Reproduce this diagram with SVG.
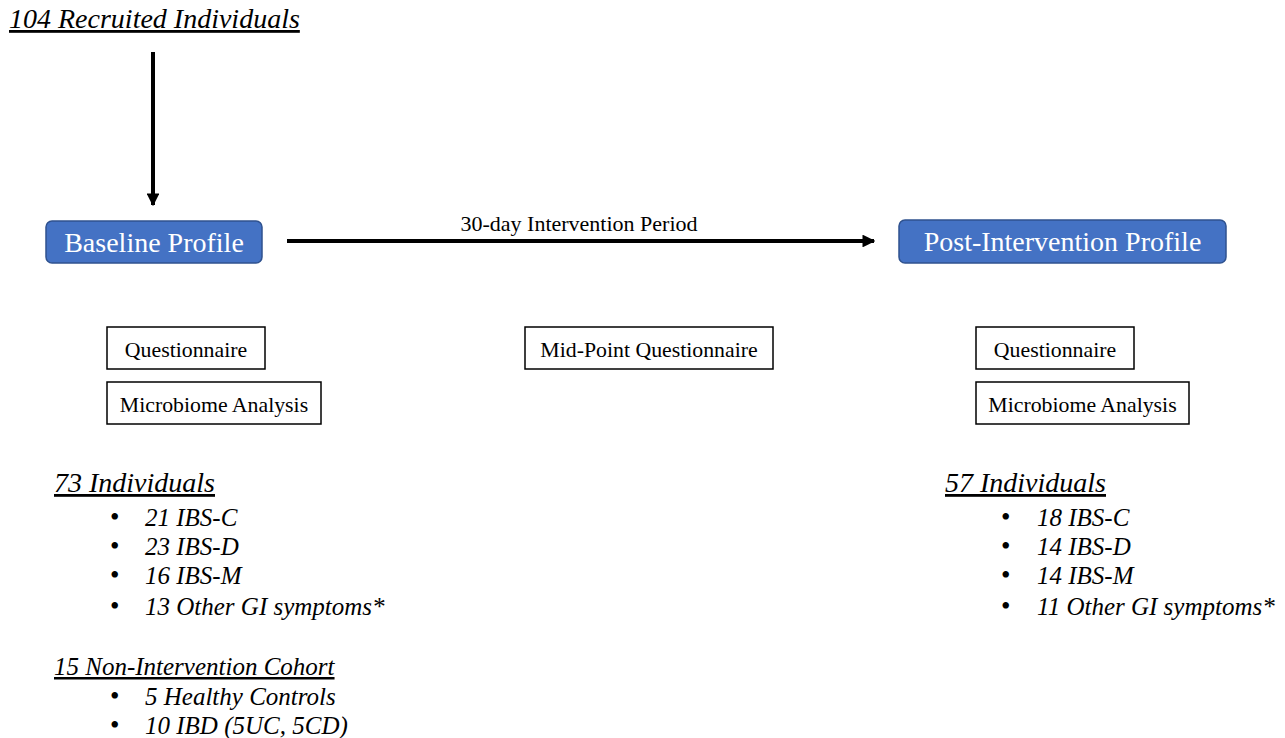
<svg xmlns="http://www.w3.org/2000/svg" width="1285" height="738" viewBox="0 0 1285 738">
<style>
text{font-family:"Liberation Serif","Times New Roman",serif;fill:#000}
.hdr{font-size:28px;font-style:italic;text-decoration:underline}
.sub{font-size:25px;font-style:italic;text-decoration:underline}
.item{font-size:25px;font-style:italic}
.bul{font-size:27px}
.prof rect{fill:#4472C4;stroke:#2F528F;stroke-width:1.5}
.prof text{fill:#fff;font-size:28px;text-anchor:middle}
.box rect{fill:#fff;stroke:#000;stroke-width:1.5}
.box text{font-size:21.8px;text-anchor:middle}
.conn line{stroke:#000;stroke-width:4}
</style>
<defs>
<marker id="ah" viewBox="0 0 10 10" refX="9" refY="5" markerWidth="3.2" markerHeight="3.2" orient="auto" markerUnits="strokeWidth">
<path d="M0,0 L10,5 L0,10 z" fill="#000"/>
</marker>
</defs>
<g id="recruited"><text class="hdr" x="9" y="28">104 Recruited Individuals</text></g>
<g id="connectors" class="conn">
<line x1="153" y1="52" x2="153" y2="205" marker-end="url(#ah)"/>
<line x1="287" y1="241" x2="874" y2="241" marker-end="url(#ah)"/>
<text x="579" y="231" font-size="22" text-anchor="middle">30-day Intervention Period</text>
</g>
<g id="baseline" class="prof"><rect x="46" y="221" width="216" height="42" rx="6"/><text x="154" y="252">Baseline Profile</text></g>
<g id="post" class="prof"><rect x="899" y="220" width="327" height="43" rx="6"/><text x="1062.5" y="251">Post-Intervention Profile</text></g>
<g id="q1" class="box"><rect x="107" y="327" width="158" height="42"/><text x="186" y="357">Questionnaire</text></g>
<g id="m1" class="box"><rect x="107" y="382" width="214" height="42"/><text x="214" y="412">Microbiome Analysis</text></g>
<g id="mid" class="box"><rect x="525" y="327" width="248" height="42"/><text x="649" y="357">Mid-Point Questionnaire</text></g>
<g id="q2" class="box"><rect x="976" y="327" width="158" height="42"/><text x="1055" y="357">Questionnaire</text></g>
<g id="m2" class="box"><rect x="976" y="382" width="213" height="42"/><text x="1082.5" y="412">Microbiome Analysis</text></g>
<g id="baselineCohort">
<text class="hdr" x="54" y="492">73 Individuals</text>
<text class="bul" x="110" y="526">•</text><text class="item" x="145" y="526">21 IBS-C</text>
<text class="bul" x="110" y="555">•</text><text class="item" x="145" y="555">23 IBS-D</text>
<text class="bul" x="110" y="584">•</text><text class="item" x="145" y="584">16 IBS-M</text>
<text class="bul" x="110" y="615">•</text><text class="item" x="145" y="615">13 Other GI symptoms*</text>
</g>
<g id="nonIntervention">
<text class="sub" x="54" y="675">15 Non-Intervention Cohort</text>
<text class="bul" x="110" y="705">•</text><text class="item" x="145" y="705">5 Healthy Controls</text>
<text class="bul" x="110" y="734">•</text><text class="item" x="145" y="734">10 IBD (5UC, 5CD)</text>
</g>
<g id="postCohort">
<text class="hdr" x="945" y="492">57 Individuals</text>
<text class="bul" x="1001" y="526">•</text><text class="item" x="1037" y="526">18 IBS-C</text>
<text class="bul" x="1001" y="555">•</text><text class="item" x="1037" y="555">14 IBS-D</text>
<text class="bul" x="1001" y="584">•</text><text class="item" x="1037" y="584">14 IBS-M</text>
<text class="bul" x="1001" y="615">•</text><text class="item" x="1037" y="615">11 Other GI symptoms*</text>
</g>
</svg>
